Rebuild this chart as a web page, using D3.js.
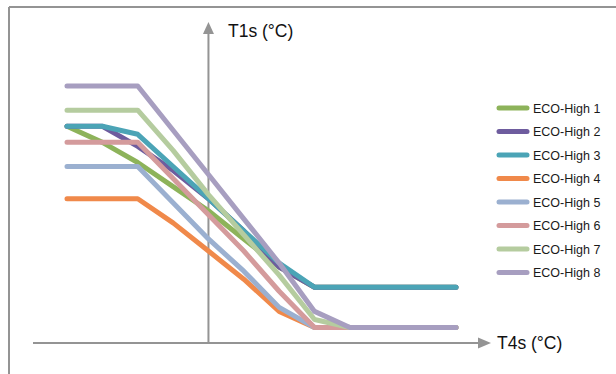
<!DOCTYPE html>
<html>
<head>
<meta charset="utf-8">
<script src="https://cdn.jsdelivr.net/npm/d3@7"></script>
<style>
  html, body { margin: 0; padding: 0; background: #fff; }
  svg { display: block; font-family: Arial, "Liberation Sans", sans-serif; }
</style>
</head>
<body>
<svg id="chart" width="616" height="374"></svg>
<script>
// T4s categories (°C)
const t4s = [-20, -15, -10, -5, 0, 5, 10, 15, 20, 25, 30, 35];
// T1s values (°C) per series
const eco1 = [55, 53, 50.5, 47.5, 44.5, 41, 37.5, 35, 35, 35, 35, 35];
const eco2 = [55, 55, 52.5, 49.5, 46, 42, 37.5, 35, 35, 35, 35, 35];
const eco3 = [55, 55, 54, 50, 46, 42, 38, 35, 35, 35, 35, 35];
const eco4 = [46, 46, 46, 43, 39.5, 36, 32, 30, 30, 30, 30, 30];
const eco5 = [50, 50, 50, 45.5, 41, 37, 32.5, 30, 30, 30, 30, 30];
const eco6 = [53, 53, 53, 48.5, 44, 39.5, 34.5, 30, 30, 30, 30, 30];
const eco7 = [57, 57, 57, 52, 46.5, 41.5, 36.5, 31, 30, 30, 30, 30];
const eco8 = [60, 60, 60, 54.5, 49, 43.5, 38, 32, 30, 30, 30, 30];
const seriesNames = ["ECO-High 1", "ECO-High 2", "ECO-High 3", "ECO-High 4",
                     "ECO-High 5", "ECO-High 6", "ECO-High 7", "ECO-High 8"];
const seriesValues = [eco1, eco2, eco3, eco4, eco5, eco6, eco7, eco8];
const colors = ["#8db35a", "#6e5c9e", "#4ba4b6", "#f0894a",
                "#9bb0d0", "#d49b9c", "#b5cc9f", "#a79ec0"];
const xTitle = "T4s (°C)";
const yTitle = "T1s (°C)";

const svg = d3.select("#chart");
const x = d3.scaleLinear().domain([-20, 35]).range([67, 456]);
const y = d3.scaleLinear().domain([30, 60]).range([327.5, 86]);

const axisColor = "#949494";

// frame (top and left edges)
svg.append("line").attr("x1", 9).attr("x2", 616).attr("y1", 7).attr("y2", 7)
  .attr("stroke", axisColor).attr("stroke-width", 2);
svg.append("line").attr("x1", 9).attr("x2", 9).attr("y1", 7).attr("y2", 374)
  .attr("stroke", axisColor).attr("stroke-width", 2);

// axes with arrows
const x0 = x(0), yAxisY = 343;
svg.append("line").attr("x1", 33).attr("x2", 478).attr("y1", yAxisY).attr("y2", yAxisY)
  .attr("stroke", axisColor).attr("stroke-width", 2);
svg.append("path").attr("d", `M478,${yAxisY - 5.5}L491,${yAxisY}L478,${yAxisY + 5.5}Z`)
  .attr("fill", axisColor);
svg.append("line").attr("x1", x0).attr("x2", x0).attr("y1", yAxisY).attr("y2", 34)
  .attr("stroke", axisColor).attr("stroke-width", 2);
svg.append("path").attr("d", `M${x0 - 5.5},34L${x0},22L${x0 + 5.5},34Z`)
  .attr("fill", axisColor);

svg.append("text").attr("x", 228).attr("y", 37).attr("font-size", 17.5)
  .attr("fill", "#111").text(yTitle);
svg.append("text").attr("x", 497).attr("y", 349).attr("font-size", 17.5)
  .attr("fill", "#111").text(xTitle);

// lines
const line = d3.line().x((d, i) => x(t4s[i])).y(d => y(d));
seriesValues.forEach((vals, k) => {
  svg.append("path").datum(vals)
    .attr("d", line)
    .attr("fill", "none")
    .attr("stroke", colors[k])
    .attr("stroke-width", 5)
    .attr("stroke-linecap", "round")
    .attr("stroke-linejoin", "round");
});

// legend
const lg = svg.append("g");
seriesNames.forEach((name, k) => {
  const yy = 108 + k * 23.5;
  lg.append("line").attr("x1", 499).attr("x2", 527).attr("y1", yy).attr("y2", yy)
    .attr("stroke", colors[k]).attr("stroke-width", 5).attr("stroke-linecap", "round");
  lg.append("text").attr("x", 533).attr("y", yy + 4.5).attr("font-size", 12.5)
    .attr("fill", "#1a1a1a").text(name);
});
</script>
</body>
</html>
